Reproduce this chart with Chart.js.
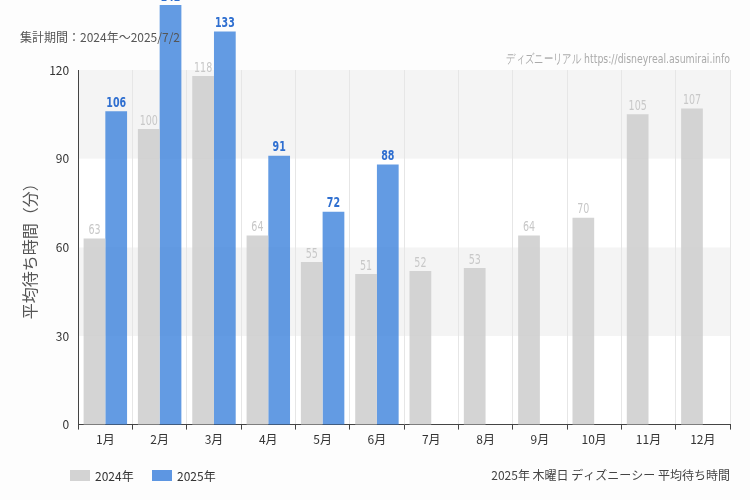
<!DOCTYPE html>
<html><head><meta charset="utf-8">
<script src="https://cdn.jsdelivr.net/npm/chart.js@4"></script>
<style>html,body{margin:0;background:#fdfdfd}#w{width:750px;height:500px}</style>
</head><body><div id="w"><canvas id="c"></canvas></div>
<script>
const categories=['1月','2月','3月','4月','5月','6月','7月','8月','9月','10月','11月','12月'];
const values2024=[63,100,118,64,55,51,52,53,64,70,105,107];
const values2025=[106,142,133,91,72,88,null,null,null,null,null,null];
const yTicks=[0,30,60,90,120];
const F='"Noto Sans CJK JP","Noto Sans",sans-serif';
const bands={id:'bands',beforeDraw(ch){const{ctx,chartArea:a,scales:{y}}=ch;ctx.save();
 for(let i=0;i<4;i++){ctx.fillStyle=(i%2)?'#f4f4f4':'#ffffff';const t=y.getPixelForValue(yTicks[i+1]),b=y.getPixelForValue(yTicks[i]);ctx.fillRect(a.left,t,a.right-a.left,b-t);}
 ctx.restore();}};
function narrow(ctx,txt,x,y,sx){ctx.save();ctx.translate(x,y);ctx.scale(sx,1);ctx.fillText(txt,0,0);ctx.restore();}
const texts={id:'texts',afterDraw(ch){const{ctx}=ch;ctx.save();
 ch.data.datasets.forEach((ds,di)=>{ch.getDatasetMeta(di).data.forEach((el,i)=>{const v=ds.data[i];if(v==null)return;
  ctx.font=(di?'bold ':'')+'14px "DejaVu Sans",sans-serif';ctx.textAlign='center';ctx.textBaseline='bottom';
  ctx.fillStyle=di?'#2f6fd0':'#c8c8c8';narrow(ctx,String(v),el.x,el.y-1,0.68);});});
 ctx.font='12px '+F;ctx.fillStyle='#555';ctx.textAlign='left';ctx.textBaseline='middle';ctx.fillText('集計期間：2024年～2025/7/2',20,37);
 ctx.font='13px "DejaVu Sans",sans-serif';ctx.fillStyle='#aaa';ctx.textAlign='right';narrow(ctx,'ディズニーリアル https://disneyreal.asumirai.info',730,60,0.72);
 ctx.font='12px '+F;ctx.fillStyle='#444';ctx.fillText('2025年 木曜日 ディズニーシー 平均待ち時間',730,475);
 ctx.textAlign='left';
 ctx.fillStyle='#d3d3d3';ctx.fillRect(70,470,20,11);ctx.fillStyle='#333';ctx.fillText('2024年',95,476);
 ctx.fillStyle='#5d96e2';ctx.fillRect(152,470,20,11);ctx.fillStyle='#333';ctx.fillText('2025年',177,476);
 ctx.restore();}};
new Chart(document.getElementById('c'),{type:'bar',
 data:{labels:categories,datasets:[
  {label:'2024年',data:values2024,backgroundColor:'rgba(204,204,204,0.85)',clip:false},
  {label:'2025年',data:values2025,backgroundColor:'rgba(60,130,220,0.8)',clip:false}]},
 options:{responsive:true,maintainAspectRatio:false,animation:false,
  layout:{padding:{top:70,right:20,left:16,bottom:50}},
  datasets:{bar:{categoryPercentage:0.8,barPercentage:1}},
  plugins:{tooltip:{enabled:false},legend:{display:false}},
  scales:{
   x:{grid:{color:'#e6e6e6',drawTicks:true,tickLength:5,tickColor:'#444',offset:true},border:{color:'#444'},ticks:{color:'#333',font:{size:12,family:F}}},
   y:{min:0,max:120,afterBuildTicks:s=>{s.ticks=yTicks.map(v=>({value:v}));},grid:{display:false,tickLength:5,drawTicks:true},border:{color:'#444'},
    ticks:{color:'#333',font:{size:12,family:F},padding:4},
    title:{display:true,text:'平均待ち時間（分）',color:'#555',font:{size:16,family:F},padding:{bottom:6}}}}}
 ,plugins:[bands,texts]});
</script></body></html>
